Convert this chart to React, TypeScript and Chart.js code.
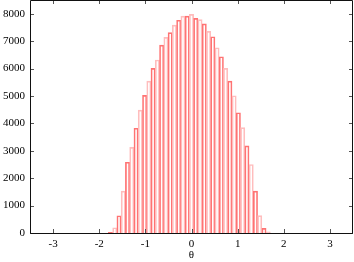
import React, { useEffect, useRef } from 'react';
import { Chart, registerables } from 'chart.js';

Chart.register(...registerables);

// bin centres (theta) of the histogram
const binCenters: number[] = [
  -1.756, -1.663, -1.571, -1.478, -1.386, -1.294, -1.201, -1.109, -1.016, -0.924,
  -0.832, -0.739, -0.647, -0.554, -0.462, -0.370, -0.277, -0.185, -0.092, 0.0,
  0.092, 0.185, 0.277, 0.370, 0.462, 0.554, 0.647, 0.739, 0.832, 0.924,
  1.016, 1.109, 1.201, 1.294, 1.386, 1.478, 1.571, 1.663,
];

// counts per bin
const counts: number[] = [
  25, 190, 630, 1530, 2580, 3125, 3820, 4485, 5020, 5540,
  6005, 6310, 6856, 7137, 7310, 7586, 7760, 7910, 7910, 7976,
  7830, 7785, 7630, 7355, 7160, 6758, 6430, 6005, 5543, 5007,
  4387, 3845, 3178, 2498, 1525, 631, 171, 47,
];

const xTickValues: number[] = [-3, -2, -1, 0, 1, 2, 3];
const yTickValues: number[] = [0, 1000, 2000, 3000, 4000, 5000, 6000, 7000, 8000];
const xTitle = 'θ';

const RED = '#ff7373';
const PINK = '#ffbdbd';

const framePlugin = {
  id: 'frame',
  afterDatasetsDraw(chart: any) {
    const { ctx, chartArea: a, scales } = chart;
    ctx.save();
    const len = 4;
    ctx.strokeStyle = '#555';
    ctx.lineWidth = 1;
    ctx.beginPath();
    for (const v of xTickValues) {
      const px = Math.round(scales.x.getPixelForValue(v)) + 0.5;
      ctx.moveTo(px, a.bottom);
      ctx.lineTo(px, a.bottom - len);
      ctx.moveTo(px, a.top);
      ctx.lineTo(px, a.top + len);
    }
    for (const v of yTickValues) {
      const py = Math.round(scales.y.getPixelForValue(v)) + 0.5;
      ctx.moveTo(a.left, py);
      ctx.lineTo(a.left + len, py);
      ctx.moveTo(a.right, py);
      ctx.lineTo(a.right - len, py);
    }
    ctx.stroke();
    ctx.strokeStyle = '#111';
    ctx.beginPath();
    ctx.moveTo(a.left + 0.5, a.top + 0.5);
    ctx.lineTo(a.right - 0.5, a.top + 0.5);
    ctx.lineTo(a.right - 0.5, a.bottom + 0.5);
    ctx.lineTo(a.left + 0.5, a.bottom + 0.5);
    ctx.closePath();
    ctx.stroke();
    ctx.restore();
  },
};

export default function App() {
  const ref = useRef<HTMLCanvasElement | null>(null);

  useEffect(() => {
    if (!ref.current) return;
    const font = { family: "'Liberation Serif', 'DejaVu Serif', serif", size: 11 };
    const chart = new Chart(ref.current, {
      type: 'bar',
      data: {
        datasets: [
          {
            data: binCenters.map((x, i) => ({ x, y: counts[i] })),
            backgroundColor: 'rgba(0,0,0,0)',
            borderColor: counts.map((_, i) => (i % 2 === 0 ? RED : PINK)),
            borderWidth: 1,
            categoryPercentage: 1,
            barPercentage: 1,
          } as any,
        ],
      },
      options: {
        responsive: false,
        animation: false,
        layout: { padding: { top: 0, right: 1, left: 0, bottom: 0 } },
        plugins: { legend: { display: false }, tooltip: { enabled: false } },
        scales: {
          x: {
            type: 'linear',
            min: -3.5,
            max: 3.5,
            offset: false,
            grid: { display: false, drawTicks: false },
            border: { display: false },
            ticks: { color: '#000', font, padding: 5, maxRotation: 0, callback: (v: any) => String(v) },
            afterBuildTicks: (s: any) => {
              s.ticks = xTickValues.map((v) => ({ value: v }));
            },
            afterFit: (s: any) => {
              s.height = 29;
              s.paddingLeft = 0;
              s.paddingRight = 0;
            },
            title: { display: true, text: xTitle, color: '#000', font, padding: { top: 0, bottom: 0 } },
          },
          y: {
            type: 'linear',
            min: 0,
            max: 8500,
            grid: { display: false, drawTicks: false },
            border: { display: false },
            ticks: { color: '#000', font, padding: 5, callback: (v: any) => String(v) },
            afterBuildTicks: (s: any) => {
              s.ticks = yTickValues.map((v) => ({ value: v }));
            },
            afterFit: (s: any) => {
              s.width = 30;
              s.paddingTop = 0;
              s.paddingBottom = 0;
            },
          },
        },
      },
      plugins: [framePlugin],
    });
    return () => chart.destroy();
  }, []);

  return (
    <div style={{ position: 'absolute', left: 0, top: 0, width: 354, height: 262, background: '#fff' }}>
      <canvas ref={ref} width={354} height={262} style={{ display: 'block' }} />
    </div>
  );
}
